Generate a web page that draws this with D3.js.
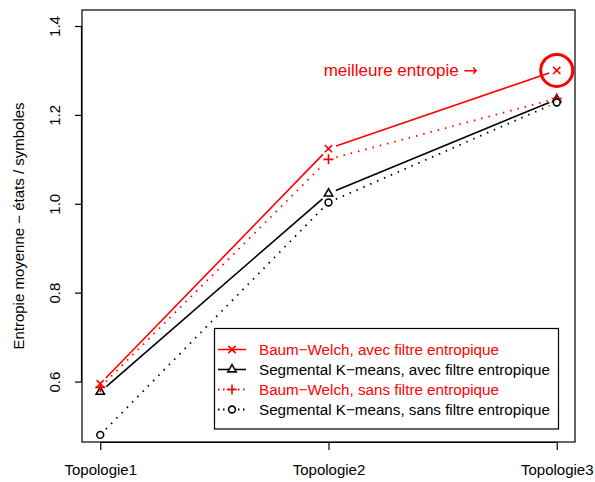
<!DOCTYPE html>
<html><head><meta charset="utf-8">
<script src="https://cdn.jsdelivr.net/npm/d3@7"></script>
<style>body{margin:0;background:#fff}svg{display:block}text{font-family:"Liberation Sans",Arial,sans-serif}</style>
</head><body><svg id="c" width="595" height="482"></svg>
<script>
const categories = ["Topologie1","Topologie2","Topologie3"];
const yTicks = [0.6, 0.8, 1.0, 1.2, 1.4];
const bwAvec = [0.595, 1.124, 1.300];
const skmAvec = [0.577, 1.023, 1.235];
const bwSans = [0.587, 1.100, 1.237];
const skmSans = [0.480, 1.003, 1.228];
const seriesNames = ["Baum\u2212Welch, avec filtre entropique","Segmental K\u2212means, avec filtre entropique","Baum\u2212Welch, sans filtre entropique","Segmental K\u2212means, sans filtre entropique"];
const yLabel = "Entropie moyenne \u2212 \u00e9tats / symboles";
const annotationText = "meilleure entropie ";
const annotationArrow = "\u2192";

const series = [
  {name: seriesNames[0], values: bwAvec, color: "#ff0000", dash: null, pch: "x"},
  {name: seriesNames[1], values: skmAvec, color: "#000000", dash: null, pch: "tri"},
  {name: seriesNames[2], values: bwSans, color: "#ff0000", dash: "1.5,6", pch: "plus"},
  {name: seriesNames[3], values: skmSans, color: "#000000", dash: "1.5,6", pch: "circ"}
];

const svg = d3.select("#c");
const L = 82, R = 575, T = 10, B = 442;
const x = d3.scaleLinear().domain([0.92, 3.08]).range([L, R]);
const y = d3.scaleLinear().domain([0.464, 1.436]).range([B, T]);

function symbol(g, pch, cx, cy, color) {
  const s = 3.6;
  if (pch === "x") {
    g.append("path").attr("d", `M${cx-s},${cy-s}L${cx+s},${cy+s}M${cx-s},${cy+s}L${cx+s},${cy-s}`)
      .attr("stroke", color).attr("stroke-width", 1.6).attr("fill", "none");
  } else if (pch === "plus") {
    const p = 5;
    g.append("path").attr("d", `M${cx-p},${cy}L${cx+p},${cy}M${cx},${cy-p}L${cx},${cy+p}`)
      .attr("stroke", color).attr("stroke-width", 1.6).attr("fill", "none");
  } else if (pch === "tri") {
    const r = 4.8;
    g.append("path").attr("d", `M${cx},${cy-r}L${cx+r*0.866},${cy+r*0.5}L${cx-r*0.866},${cy+r*0.5}Z`)
      .attr("stroke", color).attr("stroke-width", 1.6).attr("fill", "#fff");
  } else {
    g.append("circle").attr("cx", cx).attr("cy", cy).attr("r", 3.4)
      .attr("stroke", color).attr("stroke-width", 1.6).attr("fill", "#fff");
  }
}

// series
const gap = 8;
series.forEach(s => {
  const g = svg.append("g");
  const pts = s.values.map((v, i) => [x(i + 1), y(v)]);
  for (let i = 0; i < pts.length - 1; i++) {
    const [x0, y0] = pts[i], [x1, y1] = pts[i + 1];
    const dx = x1 - x0, dy = y1 - y0, len = Math.hypot(dx, dy);
    const ux = dx / len, uy = dy / len;
    g.append("line")
      .attr("x1", x0 + ux * gap).attr("y1", y0 + uy * gap)
      .attr("x2", x1 - ux * gap).attr("y2", y1 - uy * gap)
      .attr("stroke", s.color).attr("stroke-width", s.dash ? 1.8 : 1.6)
      .attr("stroke-dasharray", s.dash);
  }
  pts.forEach(p => symbol(g, s.pch, p[0], p[1], s.color));
});

// frame
svg.append("rect").attr("x", L).attr("y", T).attr("width", R - L).attr("height", B - T)
  .attr("fill", "none").attr("stroke", "#000").attr("stroke-width", 1.2);

// x axis
const xa = svg.append("g").attr("transform", `translate(0,${B})`)
  .call(d3.axisBottom(x).tickValues([1, 2, 3]).tickSize(8).tickPadding(14).tickFormat(d => categories[d - 1]));
xa.select(".domain").attr("d", `M${x(1)},0.5H${x(3)}`).attr("stroke-width", 1.2);
xa.selectAll("line").attr("stroke-width", 1.2);
xa.selectAll("text").attr("font-size", 15).attr("fill", "#000").style("font-family", "Liberation Sans, Arial, sans-serif");

// y axis
const ya = svg.append("g").attr("transform", `translate(${L},0)`)
  .call(d3.axisLeft(y).tickValues(yTicks).tickSize(7).tickFormat(d3.format(".1f")));
ya.select(".domain").attr("d", `M-0.5,${y(0.6)}V${y(1.4)}`).attr("stroke-width", 1.2);
ya.selectAll("line").attr("stroke-width", 1.2);
ya.selectAll("text").attr("font-size", 15).attr("fill", "#000")
  .style("font-family", "Liberation Sans, Arial, sans-serif")
  .attr("x", null).attr("dy", null)
  .attr("text-anchor", "middle")
  .attr("transform", `translate(-27,0) rotate(-90)`)
  .attr("dy", "0.35em");

// y label
svg.append("text").attr("transform", `translate(24,${(T + B) / 2}) rotate(-90)`)
  .attr("text-anchor", "middle").attr("font-size", 15).text(yLabel);

// annotation
svg.append("circle").attr("cx", x(3)).attr("cy", y(bwAvec[2])).attr("r", 16)
  .attr("fill", "none").attr("stroke", "#ff0000").attr("stroke-width", 3);
const ann = svg.append("text").attr("x", x(3) - 79).attr("y", y(bwAvec[2])).attr("dy", "0.35em")
  .attr("text-anchor", "end").attr("font-size", 17).attr("fill", "#ff0000");
ann.append("tspan").text(annotationText);
ann.append("tspan").style("font-family", "DejaVu Sans").attr("font-size", 17).text(annotationArrow);

// legend
const lg = svg.append("g");
lg.append("rect").attr("x", 214.5).attr("y", 328.5).attr("width", 344).attr("height", 100.5)
  .attr("fill", "#fff").attr("stroke", "#000").attr("stroke-width", 1.2);
series.forEach((s, i) => {
  const cy = 349.5 + i * 20;
  lg.append("line").attr("x1", 218).attr("x2", 246).attr("y1", cy).attr("y2", cy)
    .attr("stroke", s.color).attr("stroke-width", s.dash ? 1.8 : 1.6).attr("stroke-dasharray", s.dash ? "1.5,3.5" : null);
  symbol(lg, s.pch, 232, cy, s.color);
  lg.append("text").attr("x", 259).attr("y", cy).attr("dy", "0.35em").attr("font-size", 15.2)
    .attr("fill", s.color).text(s.name);
});
</script></body></html>
